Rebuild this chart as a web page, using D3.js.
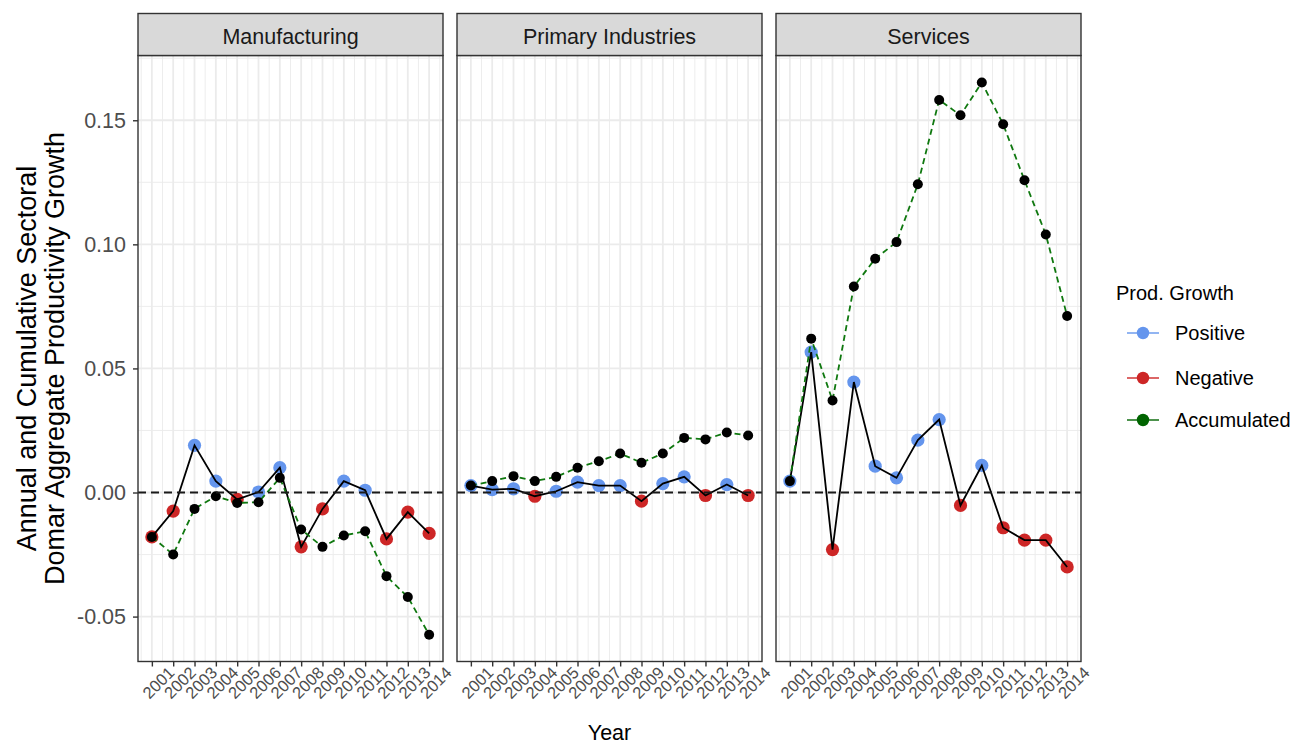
<!DOCTYPE html>
<html>
<head>
<meta charset="utf-8">
<script src="https://cdn.jsdelivr.net/npm/d3@7"></script>
<style>
  html, body { margin: 0; padding: 0; background: #ffffff; }
  svg { display: block; font-family: "Liberation Sans", Arial, sans-serif; }
</style>
</head>
<body>
<svg id="chart" width="1295" height="746"></svg>
<script>
// Years on the x axis (shared by all facets)
const years = [2001, 2002, 2003, 2004, 2005, 2006, 2007, 2008, 2009, 2010, 2011, 2012, 2013, 2014];
const yearLabels = ["2001", "2002", "2003", "2004", "2005", "2006", "2007", "2008", "2009", "2010", "2011", "2012", "2013", "2014"];

// Facet names
const sectors = ["Manufacturing", "Primary Industries", "Services"];

// Annual sectoral Domar productivity growth
const annualManufacturing = [-0.0179, -0.0075, 0.0190, 0.0046, -0.0028, 0.0002, 0.0100, -0.0219, -0.0066, 0.0046, 0.0009, -0.0187, -0.0079, -0.0165];
const annualPrimary       = [0.0028, 0.0012, 0.0015, -0.0015, 0.0005, 0.0042, 0.0028, 0.0028, -0.0035, 0.0036, 0.0063, -0.0012, 0.0032, -0.0012];
const annualServices      = [0.0046, 0.0566, -0.0230, 0.0445, 0.0106, 0.0059, 0.0211, 0.0294, -0.0052, 0.0109, -0.0142, -0.0192, -0.0192, -0.0300];

// Cumulative growth
const accumulatedManufacturing = [-0.0179, -0.0250, -0.0066, -0.0015, -0.0042, -0.0039, 0.0059, -0.0149, -0.0219, -0.0173, -0.0156, -0.0337, -0.0421, -0.0573];
const accumulatedPrimary       = [0.0028, 0.0046, 0.0066, 0.0046, 0.0063, 0.0100, 0.0126, 0.0157, 0.0120, 0.0157, 0.0220, 0.0214, 0.0242, 0.0230];
const accumulatedServices      = [0.0046, 0.0620, 0.0371, 0.0830, 0.0942, 0.1009, 0.1242, 0.1582, 0.1520, 0.1652, 0.1484, 0.1258, 0.1040, 0.0711];

// Y axis ticks
const yTickValues = [-0.05, 0.00, 0.05, 0.10, 0.15];
const yTickLabels = ["-0.05", "0.00", "0.05", "0.10", "0.15"];

// Legend
const legendTitle = "Prod. Growth";
const legendItems = ["Positive", "Negative", "Accumulated"];

const colorScale = d3.scaleOrdinal()
  .domain(legendItems)
  .range(["#6495ED", "#CD2626", "#006400"]);

const annualBySector = [annualManufacturing, annualPrimary, annualServices];
const accumBySector = [accumulatedManufacturing, accumulatedPrimary, accumulatedServices];

// Layout
const panelLefts = [138, 457, 776];
const panelW = 305;
const stripTop = 13.5, stripBottom = 55.5;
const plotTop = 55.5, plotBottom = 661.5;

const svg = d3.select("#chart");

const x = d3.scaleLinear().domain([2000.35, 2014.65]).range([0, panelW]);
const y = d3.scaleLinear().domain([-0.0681, 0.1761]).range([plotBottom, plotTop]);

const xMinor = d3.range(2000.5, 2015, 1).filter(v => v >= x.domain()[0] && v <= x.domain()[1]);
const yMinor = d3.range(-0.075, 0.2, 0.05).map(v => +v.toFixed(3)).filter(v => v >= y.domain()[0] && v <= y.domain()[1]);

const gridColor = "#ebebeb";

sectors.forEach((sector, i) => {
  const g = svg.append("g").attr("transform", `translate(${panelLefts[i]},0)`);
  const annual = annualBySector[i];
  const accum = accumBySector[i];

  // grid: minor then major
  g.selectAll(".xminor").data(xMinor).join("line")
    .attr("x1", d => x(d)).attr("x2", d => x(d))
    .attr("y1", plotTop).attr("y2", plotBottom)
    .attr("stroke", gridColor).attr("stroke-width", 0.9);
  g.selectAll(".yminor").data(yMinor).join("line")
    .attr("x1", 0).attr("x2", panelW)
    .attr("y1", d => y(d)).attr("y2", d => y(d))
    .attr("stroke", gridColor).attr("stroke-width", 0.9);
  g.selectAll(".xmajor").data(years).join("line")
    .attr("x1", d => x(d)).attr("x2", d => x(d))
    .attr("y1", plotTop).attr("y2", plotBottom)
    .attr("stroke", gridColor).attr("stroke-width", 1.8);
  g.selectAll(".ymajor").data(yTickValues).join("line")
    .attr("x1", 0).attr("x2", panelW)
    .attr("y1", d => y(d)).attr("y2", d => y(d))
    .attr("stroke", gridColor).attr("stroke-width", 1.8);

  const annualPts = years.map((yr, k) => ({ yr, v: annual[k] }));
  const accumPts = years.map((yr, k) => ({ yr, v: accum[k] }));
  const line = d3.line().x(d => x(d.yr)).y(d => y(d.v));

  // annual points coloured by sign
  g.selectAll(".ann").data(annualPts).join("circle")
    .attr("cx", d => x(d.yr)).attr("cy", d => y(d.v)).attr("r", 6.6)
    .attr("fill", d => colorScale(d.v >= 0 ? "Positive" : "Negative"));

  // annual line
  g.append("path").datum(annualPts)
    .attr("d", line).attr("fill", "none")
    .attr("stroke", "#000").attr("stroke-width", 1.8);

  // accumulated line and points
  g.append("path").datum(accumPts)
    .attr("d", line).attr("fill", "none")
    .attr("stroke", "#0f780f").attr("stroke-width", 1.8)
    .attr("stroke-dasharray", "6,4");
  g.selectAll(".acc").data(accumPts).join("circle")
    .attr("cx", d => x(d.yr)).attr("cy", d => y(d.v)).attr("r", 5)
    .attr("fill", "#000");

  // zero reference line
  g.append("line")
    .attr("x1", 0).attr("x2", panelW)
    .attr("y1", y(0)).attr("y2", y(0))
    .attr("stroke", "#1a1a1a").attr("stroke-width", 1.8)
    .attr("stroke-dasharray", "8,5");

  // panel border
  g.append("rect")
    .attr("x", 0).attr("y", plotTop).attr("width", panelW).attr("height", plotBottom - plotTop)
    .attr("fill", "none").attr("stroke", "#333333").attr("stroke-width", 1.4);

  // strip
  g.append("rect")
    .attr("x", 0).attr("y", stripTop).attr("width", panelW).attr("height", stripBottom - stripTop)
    .attr("fill", "#d9d9d9").attr("stroke", "#333333").attr("stroke-width", 1.4);
  g.append("text")
    .attr("x", panelW / 2).attr("y", (stripTop + stripBottom) / 2 + 2)
    .attr("text-anchor", "middle").attr("dominant-baseline", "central")
    .attr("font-size", 21.5).attr("fill", "#1a1a1a")
    .text(sector);

  // x axis
  const xAxis = d3.axisBottom(x)
    .tickValues(years)
    .tickFormat((d, k) => yearLabels[k])
    .tickSize(5).tickSizeOuter(0);
  const ax = g.append("g").attr("transform", `translate(0,${plotBottom})`).call(xAxis);
  ax.select(".domain").remove();
  ax.selectAll(".tick line").attr("stroke", "#333333").attr("stroke-width", 1.4);
  ax.selectAll(".tick text")
    .attr("fill", "#4d4d4d").attr("font-size", 16.5)
    .attr("font-family", "Liberation Sans, Arial, sans-serif")
    .attr("y", null).attr("dy", null)
    .attr("text-anchor", "middle").attr("dominant-baseline", "central")
    .attr("transform", "translate(6,21) rotate(-45)");
});

// y axis on the first facet
const yAxis = d3.axisLeft(y)
  .tickValues(yTickValues)
  .tickFormat((d, k) => yTickLabels[k])
  .tickSize(5).tickPadding(7).tickSizeOuter(0);
const yax = svg.append("g").attr("transform", `translate(${panelLefts[0]},0)`).call(yAxis);
yax.select(".domain").remove();
yax.selectAll(".tick line").attr("stroke", "#333333").attr("stroke-width", 1.4);
yax.selectAll(".tick text")
  .attr("fill", "#4d4d4d").attr("font-size", 21.5)
  .attr("font-family", "Liberation Sans, Arial, sans-serif");

// axis titles
const yMid = (plotTop + plotBottom) / 2;
const yTitle = svg.append("text")
  .attr("transform", `translate(36,${yMid}) rotate(-90)`)
  .attr("text-anchor", "middle").attr("font-size", 27).attr("fill", "#000");
yTitle.append("tspan").attr("x", 0).attr("y", 0).text("Annual and Cumulative Sectoral");
yTitle.append("tspan").attr("x", 0).attr("y", 27.5).text("Domar Aggregate Productivity Growth");

svg.append("text")
  .attr("x", (panelLefts[0] + panelLefts[2] + panelW) / 2).attr("y", 740)
  .attr("text-anchor", "middle").attr("font-size", 21.5).attr("fill", "#000")
  .text("Year");

// legend
const lg = svg.append("g");
lg.append("text").attr("x", 1116).attr("y", 300)
  .attr("font-size", 20).attr("fill", "#000").text(legendTitle);
const keyY = [333, 378, 420];
legendItems.forEach((item, k) => {
  const c = colorScale(item);
  lg.append("line").attr("x1", 1127).attr("x2", 1159)
    .attr("y1", keyY[k]).attr("y2", keyY[k])
    .attr("stroke", c).attr("stroke-width", 1.4);
  lg.append("circle").attr("cx", 1143).attr("cy", keyY[k]).attr("r", 6.2)
    .attr("fill", c);
  lg.append("text").attr("x", 1175).attr("y", keyY[k])
    .attr("dominant-baseline", "central")
    .attr("font-size", 20).attr("fill", "#000").text(item);
});
</script>
</body>
</html>
